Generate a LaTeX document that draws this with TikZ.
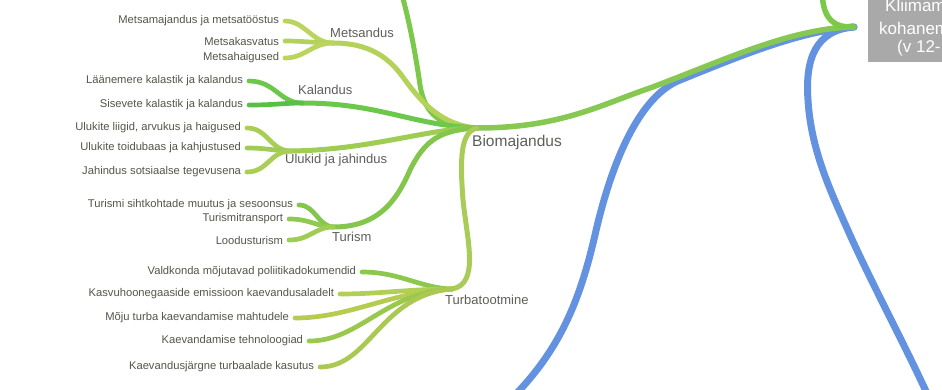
\documentclass[tikz,border=0pt]{standalone}
\usepackage{fontspec}
\setmainfont{Liberation Sans}
\definecolor{bio}{HTML}{86C851}
\definecolor{upg}{HTML}{7CC84A}
\definecolor{mets}{HTML}{B4D25A}
\definecolor{metsl}{HTML}{BAD45E}
\definecolor{kal}{HTML}{6CC84A}
\definecolor{kal2}{HTML}{58C046}
\definecolor{ulu}{HTML}{9FCC52}
\definecolor{ulul}{HTML}{A8CE56}
\definecolor{tur}{HTML}{82C64C}
\definecolor{turl}{HTML}{8ECA50}
\definecolor{turba}{HTML}{A9CC58}
\definecolor{tb1}{HTML}{8CC84B}
\definecolor{tb2}{HTML}{B2CF55}
\definecolor{tb3}{HTML}{B6CC50}
\definecolor{tb4}{HTML}{98C94C}
\definecolor{tb5}{HTML}{ABC852}
\definecolor{blueL}{HTML}{6393E0}
\definecolor{txt}{HTML}{55554A}
\definecolor{lbl}{HTML}{5E5E5A}
\definecolor{rootgray}{HTML}{A9A9A9}
\tikzset{
  leaf/.style={font=\fontsize{11.2}{13}\selectfont, text=txt, anchor=east, inner xsep=0pt, inner ysep=1pt, outer xsep=6pt},
  cat/.style={font=\fontsize{13}{15}\selectfont, text=lbl, anchor=west, inner sep=0pt},
  catbig/.style={font=\fontsize{15.5}{18}\selectfont, text=lbl, anchor=west, inner sep=0pt},
  roottxt/.style={font=\fontsize{17}{20}\selectfont, text=white, anchor=west, inner sep=0pt},
  br/.style={line width=5pt, line cap=round},
  lf/.style={line width=4.7pt, line cap=round},
  bl/.style={line width=7pt, color=blueL, line cap=round}
}
\begin{document}
\begin{tikzpicture}[x=1pt,y=-1pt]
\useasboundingbox (0,0) rectangle (942,389);
\clip (0,0) rectangle (942,389);
\fill[white] (0,0) rectangle (942,389);

% root
\node[fill=rootgray, minimum width=120pt, minimum height=70pt, inner sep=0pt, anchor=west] (root) at (868,27) {};
\node[roottxt] (rootA) at (885,7) {Kliimamuutustega};
\node[roottxt] (rootB) at (879,28) {kohanemine};
\node[roottxt] (rootC) at (897,48) {(v 12-};
\coordinate (rootK) at ([xshift=-14pt]root.west);

% hub and knots
\coordinate (hub) at (477,128);
\coordinate (kMets) at (333,43);
\coordinate (kKal) at (302,103);
\coordinate (kUlu) at (291,151);
\coordinate (kTur) at (333,227);
\coordinate (kTurba) at (452,289);
\coordinate (topG) at (822,-12);
\coordinate (topB) at (400,-12);
\coordinate (blueEnd1) at (512,398);
\coordinate (blueEnd2) at (930,400);

% labels
\node[catbig] (bioL) at (472,142) {Biomajandus};
\node[cat] (metsL) at (330,33) {Metsandus};
\node[cat] (kalL) at (298,90) {Kalandus};
\node[cat] (uluL) at (285,160) {Ulukid ja jahindus};
\node[cat] (turL) at (332,237) {Turism};
\node[cat] (turbaL) at (445,300) {Turbatootmine};

% leaves
\node[leaf] (mA) at (285,21) {Metsamajandus ja metsatööstus};
\node[leaf] (mB) at (285,41) {Metsakasvatus};
\node[leaf] (mC) at (285,58) {Metsahaigused};
\node[leaf] (kA) at (249,81) {Läänemere kalastik ja kalandus};
\node[leaf] (kB) at (249,105) {Sisevete kalastik ja kalandus};
\node[leaf] (uA) at (247,128) {Ulukite liigid, arvukus ja haigused};
\node[leaf] (uB) at (247,148) {Ulukite toidubaas ja kahjustused};
\node[leaf] (uC) at (247,172) {Jahindus sotsiaalse tegevusena};
\node[leaf] (tA) at (299,205) {Turismi sihtkohtade muutus ja sesoonsus};
\node[leaf] (tB) at (289,219) {Turismitransport};
\node[leaf] (tC) at (289,240) {Loodusturism};
\node[leaf] (bA) at (362,272) {Valdkonda mõjutavad poliitikadokumendid};
\node[leaf] (bB) at (340,294) {Kasvuhoonegaaside emissioon kaevandusaladelt};
\node[leaf] (bC) at (295,318) {Mõju turba kaevandamise mahtudele};
\node[leaf] (bD) at (309,341) {Kaevandamise tehnoloogiad};
\node[leaf] (bE) at (320,367) {Kaevandusjärgne turbaalade kasutus};

% blue links
\draw[bl] (rootK) .. controls (800,30) and (735,58) .. (680,80) .. controls (640,96) and (612,160) .. (595,235) .. controls (580,300) and (560,350) .. (blueEnd1);
\draw[bl] (rootK) .. controls (815,30) and (805,60) .. (808,100) .. controls (811,150) and (830,190) .. (850,235) .. controls (875,290) and (905,345) .. (blueEnd2);

% green links from root
\draw[br, color=bio, line width=5.5pt] (rootK) .. controls (790,28) and (720,62) .. (650,88) .. controls (600,105) and (560,128) .. (hub);
\draw[br, color=upg, line width=5.5pt] (rootK) .. controls (830,28) and (822,15) .. (topG);

% hub branches
\draw[br, color=upg] (hub) .. controls (440,127) and (425,115) .. (420,85) .. controls (415,50) and (408,15) .. (topB);
\draw[br, color=mets] (hub) .. controls (440,125) and (420,100) .. (405,80) .. controls (390,58) and (370,43) .. (kMets);
\draw[br, color=kal] (hub) .. controls (410,125) and (380,103) .. (kKal);
\draw[br, color=ulu] (hub) .. controls (430,128) and (370,150) .. (kUlu);
\draw[br, color=tur] (hub) .. controls (440,130) and (425,140) .. (410,170) .. controls (395,205) and (375,227) .. (kTur);
\draw[br, color=turba] (hub) .. controls (460,132) and (460,160) .. (463,200) .. controls (467,240) and (480,284) .. (kTurba);

% leaf links
\draw[lf, color=metsl] (mA.east) .. controls (305,21) and (312,43) .. (kMets);
\draw[lf, color=mets] (mB.east) .. controls (305,41) and (315,43) .. (kMets);
\draw[lf, color=metsl] (mC.east) .. controls (305,58) and (312,43) .. (kMets);
\draw[lf, color=kal] (kA.east) .. controls (275,81) and (280,103) .. (kKal);
\draw[lf, color=kal2] (kB.east) .. controls (275,105) and (285,103) .. (kKal);
\draw[lf, color=ulul] (uA.east) .. controls (268,128) and (270,151) .. (kUlu);
\draw[lf, color=ulu] (uB.east) .. controls (268,148) and (275,151) .. (kUlu);
\draw[lf, color=ulul] (uC.east) .. controls (268,172) and (270,151) .. (kUlu);
\draw[lf, color=tur] (tA.east) .. controls (315,205) and (318,226) .. (kTur);
\draw[lf, color=turl] (tB.east) .. controls (310,219) and (318,227) .. (kTur);
\draw[lf, color=ulu] (tC.east) .. controls (310,240) and (315,227) .. (kTur);
\draw[lf, color=tb1] (bA.east) .. controls (400,272) and (420,288) .. (kTurba);
\draw[lf, color=tb2] (bB.east) .. controls (380,294) and (410,289) .. (kTurba);
\draw[lf, color=tb3] (bC.east) .. controls (350,318) and (390,292) .. (kTurba);
\draw[lf, color=tb4] (bD.east) .. controls (360,341) and (385,292) .. (kTurba);
\draw[lf, color=tb5] (bE.east) .. controls (370,367) and (380,295) .. (kTurba);
\end{tikzpicture}
\end{document}
